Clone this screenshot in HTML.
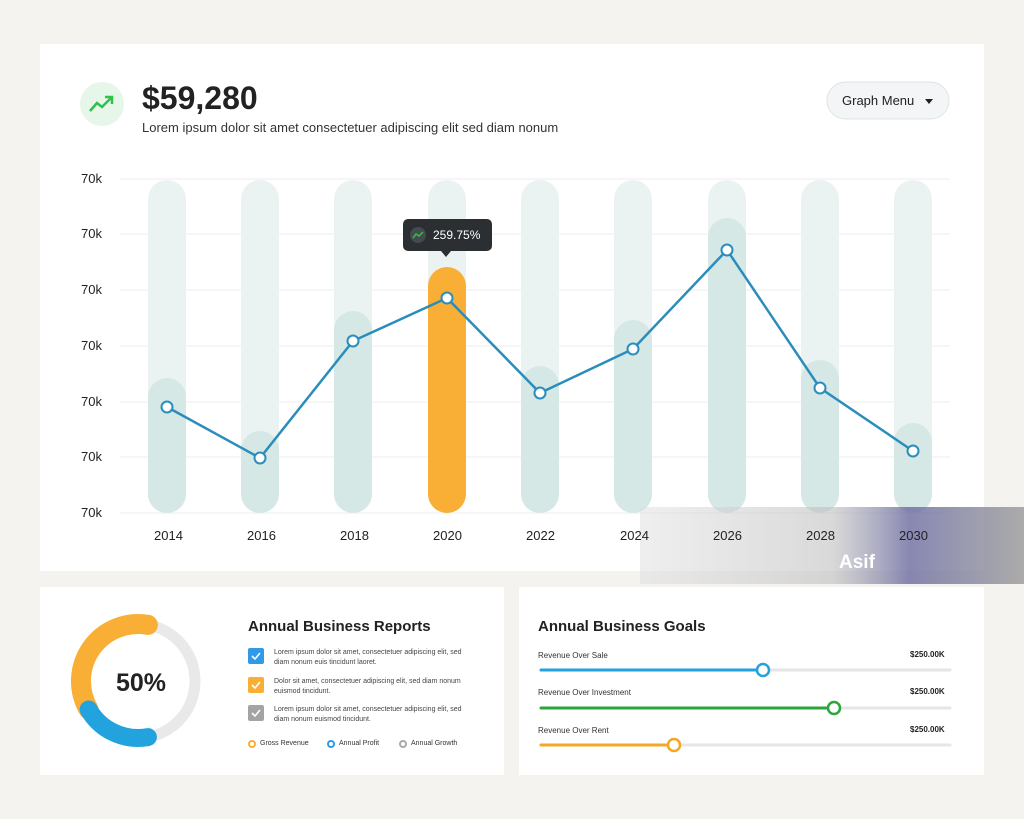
<!DOCTYPE html>
<html><head><meta charset="utf-8"><style>
body{margin:0;width:1024px;height:819px;background:#f4f3ef;font-family:"Liberation Sans",sans-serif;position:relative;overflow:hidden}
.card{position:absolute;background:#fff}
.t{position:absolute;color:#222;white-space:nowrap}
</style></head><body>
<div class="card" style="left:40px;top:44px;width:944px;height:527px"></div>
<div class="card" style="left:40px;top:587px;width:464px;height:188px"></div>
<div class="card" style="left:519px;top:587px;width:465px;height:188px"></div>

<svg width="1024" height="819" style="position:absolute;left:0;top:0">
<circle cx="102" cy="104" r="22" fill="#e6f6e9"/>
<polyline points="90,111 97,103 102,107 111,98" fill="none" stroke="#2ec24a" stroke-width="2.5"/>
<polyline points="105,97 112,97 112,104" fill="none" stroke="#2ec24a" stroke-width="2.5"/>
<rect x="827" y="82" width="122" height="37" rx="18.5" fill="#f3f5f6" stroke="#dfe4e6"/>
<polygon points="925,99 933,99 929,104" fill="#222"/>
<g stroke="#eceeee" stroke-width="1">
<line x1="120" y1="179" x2="950" y2="179"/><line x1="120" y1="234" x2="950" y2="234"/><line x1="120" y1="290" x2="950" y2="290"/><line x1="120" y1="346" x2="950" y2="346"/><line x1="120" y1="402" x2="950" y2="402"/><line x1="120" y1="457" x2="950" y2="457"/><line x1="120" y1="513" x2="950" y2="513"/>
</g>
<g fill="#ebf3f2">
<rect x="148" y="180" width="38" height="333" rx="19"/><rect x="241" y="180" width="38" height="333" rx="19"/><rect x="334" y="180" width="38" height="333" rx="19"/><rect x="428" y="180" width="38" height="333" rx="19"/><rect x="521" y="180" width="38" height="333" rx="19"/><rect x="614" y="180" width="38" height="333" rx="19"/><rect x="708" y="180" width="38" height="333" rx="19"/><rect x="801" y="180" width="38" height="333" rx="19"/><rect x="894" y="180" width="38" height="333" rx="19"/>
</g>
<g fill="#d5e8e6">
<rect x="148" y="378" width="38" height="135" rx="19"/><rect x="241" y="431" width="38" height="82" rx="19"/><rect x="334" y="311" width="38" height="202" rx="19"/><rect x="521" y="366" width="38" height="147" rx="19"/><rect x="614" y="320" width="38" height="193" rx="19"/><rect x="708" y="218" width="38" height="295" rx="19"/><rect x="801" y="360" width="38" height="153" rx="19"/><rect x="894" y="423" width="38" height="90" rx="19"/>
</g>
<rect x="428" y="267" width="38" height="246" rx="19" fill="#f9af35"/>
<polyline points="167,407 260,458 353,341 447,298 540,393 633,349 727,250 820,388 913,451" fill="none" stroke="#2a8dbb" stroke-width="2.5"/>
<g fill="#fff" stroke="#2a8dbb" stroke-width="2">
<circle cx="167" cy="407" r="5.5"/><circle cx="260" cy="458" r="5.5"/><circle cx="353" cy="341" r="5.5"/><circle cx="447" cy="298" r="5.5"/><circle cx="540" cy="393" r="5.5"/><circle cx="633" cy="349" r="5.5"/><circle cx="727" cy="250" r="5.5"/><circle cx="820" cy="388" r="5.5"/><circle cx="913" cy="451" r="5.5"/>
</g>
<rect x="403" y="219" width="89" height="32" rx="5" fill="#2b2f31"/>
<polygon points="441,251 451,251 446,257" fill="#2b2f31"/>
<circle cx="418" cy="235" r="8" fill="#454a4c"/>
<polyline points="413,238 416,234 419,236 423,232" fill="none" stroke="#2ec24a" stroke-width="1.5"/>

<circle cx="138" cy="681" r="57" fill="none" stroke="#e9e9e9" stroke-width="11"/>
<path d="M147.9,624.9 A57,57 0 0 0 88.6,709.5" fill="none" stroke="#f9af35" stroke-width="20" stroke-linecap="round"/>
<path d="M88.6,709.5 A57,57 0 0 0 147.9,737.1" fill="none" stroke="#22a3dd" stroke-width="18" stroke-linecap="round"/>

<rect x="248" y="648" width="16" height="16" rx="2" fill="#2f9be8"/>
<rect x="248" y="677" width="16" height="16" rx="2" fill="#f9af35"/>
<rect x="248" y="705" width="16" height="16" rx="2" fill="#a4a4a4"/>
<g fill="none" stroke="#fff" stroke-width="1.6"><polyline points="252,656 255,659 260,653"/><polyline points="252,685 255,688 260,682"/><polyline points="252,713 255,716 260,710"/></g>
<g fill="none" stroke-width="2"><circle cx="252" cy="744" r="3" stroke="#f9af35"/><circle cx="331" cy="744" r="3" stroke="#2f9be8"/><circle cx="403" cy="744" r="3" stroke="#aaa"/></g>

<g stroke-width="3" stroke-linecap="round">
<line x1="541" y1="670" x2="950" y2="670" stroke="#e6e6e6"/><line x1="541" y1="670" x2="763" y2="670" stroke="#22a3dd"/>
<line x1="541" y1="708" x2="950" y2="708" stroke="#e6e6e6"/><line x1="541" y1="708" x2="834" y2="708" stroke="#2aa63a"/>
<line x1="541" y1="745" x2="950" y2="745" stroke="#e6e6e6"/><line x1="541" y1="745" x2="674" y2="745" stroke="#f5a623"/>
</g>
<g fill="#fff" stroke-width="2.5"><circle cx="763" cy="670" r="6" stroke="#22a3dd"/><circle cx="834" cy="708" r="6" stroke="#2aa63a"/><circle cx="674" cy="745" r="6" stroke="#f5a623"/></g>
<defs><linearGradient id="w" x1="0" x2="1"><stop offset="0" stop-color="#ddd" stop-opacity="0.6"/><stop offset="0.5" stop-color="#bbb" stop-opacity="0.7"/><stop offset="0.7" stop-color="#6a6aa0"/><stop offset="1" stop-color="#999"/></linearGradient></defs>
<rect x="640" y="507" width="384" height="77" fill="url(#w)" opacity="0.8"/>
</svg>

<div class="t" style="left:142px;top:80px;font-size:32px;font-weight:bold">$59,280</div>
<div class="t" style="left:142px;top:120px;font-size:13px;color:#333">Lorem ipsum dolor sit amet consectetuer adipiscing elit sed diam nonum</div>
<div class="t" style="left:842px;top:93px;font-size:13px">Graph Menu</div>
<div class="t" style="left:433px;top:228px;font-size:12px;color:#fff">259.75%</div>
<div class="t" style="left:81px;top:171px;font-size:13px;line-height:16px">70k</div>
<div class="t" style="left:81px;top:226px;font-size:13px;line-height:16px">70k</div>
<div class="t" style="left:81px;top:282px;font-size:13px;line-height:16px">70k</div>
<div class="t" style="left:81px;top:338px;font-size:13px;line-height:16px">70k</div>
<div class="t" style="left:81px;top:394px;font-size:13px;line-height:16px">70k</div>
<div class="t" style="left:81px;top:449px;font-size:13px;line-height:16px">70k</div>
<div class="t" style="left:81px;top:505px;font-size:13px;line-height:16px">70k</div>
<div class="t" style="left:154px;top:528px;font-size:13px">2014</div>
<div class="t" style="left:247px;top:528px;font-size:13px">2016</div>
<div class="t" style="left:340px;top:528px;font-size:13px">2018</div>
<div class="t" style="left:433px;top:528px;font-size:13px">2020</div>
<div class="t" style="left:526px;top:528px;font-size:13px">2022</div>
<div class="t" style="left:620px;top:528px;font-size:13px">2024</div>
<div class="t" style="left:713px;top:528px;font-size:13px">2026</div>
<div class="t" style="left:806px;top:528px;font-size:13px">2028</div>
<div class="t" style="left:899px;top:528px;font-size:13px">2030</div>
<div class="t" style="left:839px;top:552px;font-size:19px;color:#fff;font-weight:bold">Asif</div>

<div class="t" style="left:116px;top:669px;font-size:25px;font-weight:bold">50%</div>
<div class="t" style="left:248px;top:618px;font-size:15px;font-weight:bold">Annual Business Reports</div>
<div class="t" style="left:274px;top:648px;font-size:7px;line-height:10px;color:#444">Lorem ipsum dolor sit amet, consectetuer adipiscing elit, sed<br>diam nonum euis tincidunt laoret.</div>
<div class="t" style="left:274px;top:677px;font-size:7px;line-height:10px;color:#444">Dolor sit amet, consectetuer adipiscing elit, sed diam nonum<br>euismod tincidunt.</div>
<div class="t" style="left:274px;top:705px;font-size:7px;line-height:10px;color:#444">Lorem ipsum dolor sit amet, consectetuer adipiscing elit, sed<br>diam nonum euismod tincidunt.</div>
<div class="t" style="left:260px;top:740px;font-size:7px;color:#333">Gross Revenue</div>
<div class="t" style="left:339px;top:740px;font-size:7px;color:#333">Annual Profit</div>
<div class="t" style="left:411px;top:740px;font-size:7px;color:#333">Annual Growth</div>

<div class="t" style="left:538px;top:618px;font-size:15px;font-weight:bold">Annual Business Goals</div>
<div class="t" style="left:538px;top:651px;font-size:8px;color:#333">Revenue Over Sale</div>
<div class="t" style="left:910px;top:650px;font-size:8px;font-weight:bold">$250.00K</div>
<div class="t" style="left:538px;top:688px;font-size:8px;color:#333">Revenue Over Investment</div>
<div class="t" style="left:910px;top:687px;font-size:8px;font-weight:bold">$250.00K</div>
<div class="t" style="left:538px;top:726px;font-size:8px;color:#333">Revenue Over Rent</div>
<div class="t" style="left:910px;top:725px;font-size:8px;font-weight:bold">$250.00K</div>
</body></html>
